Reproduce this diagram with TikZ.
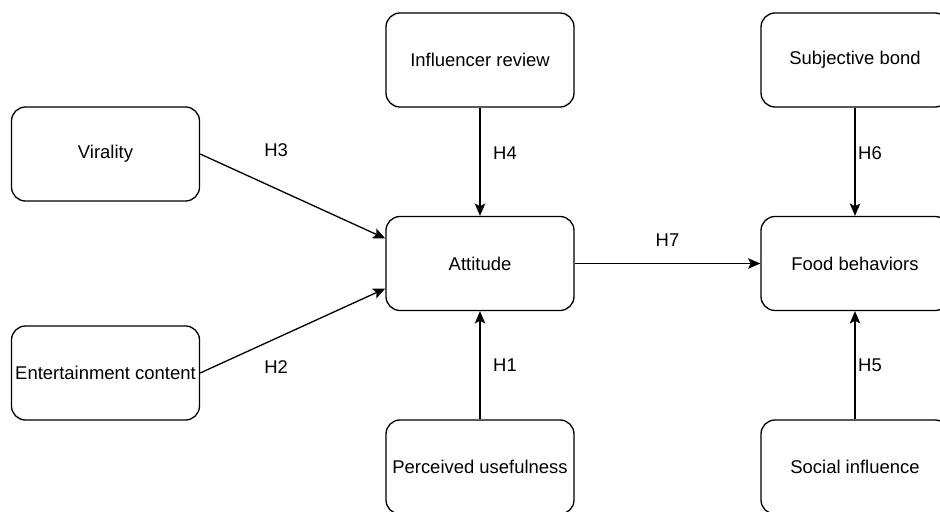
\documentclass[tikz,border=0pt]{standalone}
\usepackage{fontspec}
\setmainfont{Liberation Sans}
\usetikzlibrary{arrows.meta, positioning}

\begin{document}
\begin{tikzpicture}[
    construct/.style={rectangle, draw, rounded corners=0.28cm, line width=0.75pt, minimum width=3.76cm, minimum height=1.88cm, inner sep=1pt, align=center, font=\fontsize{10.5}{12.6}\selectfont},
    hyp/.style={font=\fontsize{10.5}{12.6}\selectfont},
    arrow/.style={-{Stealth[length=7pt, width=6pt, inset=1.5pt]}, line width=0.75pt}
]
    \clip (0,0) rectangle (18.8,10.22);
    % Constructs
    \node[construct] (vir) at (2.11,7.14) {Virality};
    \node[construct] (ent) at (2.11,2.76) {Entertainment content};
    \node[construct] (inf) at (9.6,9.02) {Influencer review};
    \node[construct] (att) at (9.6,4.95) {Attitude};
    \node[construct] (use) at (9.6,0.88) {Perceived usefulness};
    \node[construct] (sub) at (17.1,9.02) {Subjective bond};
    \node[construct] (food) at (17.1,4.95) {Food behaviors};
    \node[construct] (soc) at (17.1,0.88) {Social influence};

    % Hypotheses
    \draw[arrow] (vir.east) -- node[hyp, pos=0.41, yshift=0.76cm] {H3} ([yshift=0.5cm]att.west);
    \draw[arrow] (ent.east) -- node[hyp, pos=0.41, yshift=-0.58cm] {H2} ([yshift=-0.5cm]att.west);
    \draw[arrow] (inf) -- node[hyp, pos=0.42, xshift=0.5cm] {H4} (att);
    \draw[arrow] (use) -- node[hyp, pos=0.5, xshift=0.5cm] {H1} (att);
    \draw[arrow] (att) -- node[hyp, pos=0.5, yshift=0.46cm] {H7} (food);
    \draw[arrow] (sub) -- node[hyp, pos=0.42, xshift=0.3cm] {H6} (food);
    \draw[arrow] (soc) -- node[hyp, pos=0.5, xshift=0.3cm] {H5} (food);
\end{tikzpicture}
\end{document}
